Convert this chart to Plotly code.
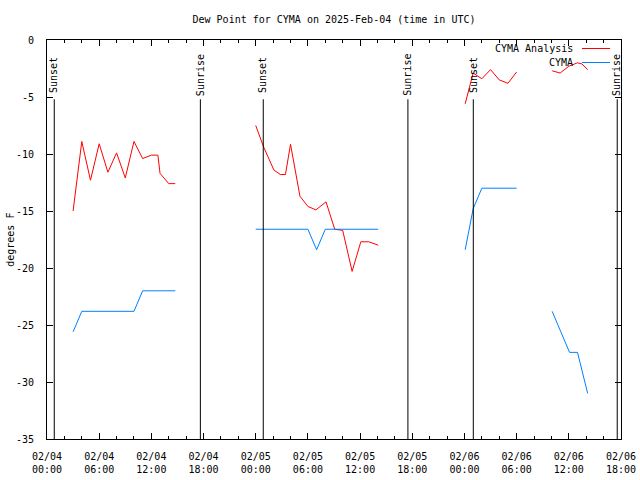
import plotly.graph_objects as go

title_text = "Dew Point for CYMA on 2025-Feb-04 (time in UTC)"

analysis_times = [
    "2025-02-04 03:00", "2025-02-04 04:00", "2025-02-04 05:00", "2025-02-04 06:00",
    "2025-02-04 07:00", "2025-02-04 08:00", "2025-02-04 09:00", "2025-02-04 10:00",
    "2025-02-04 11:00", "2025-02-04 12:00", "2025-02-04 12:45", "2025-02-04 13:00",
    "2025-02-04 14:00", "2025-02-04 14:45", None,
    "2025-02-05 00:00", "2025-02-05 00:55", "2025-02-05 02:05", "2025-02-05 02:50",
    "2025-02-05 03:25", "2025-02-05 04:00", "2025-02-05 05:05", "2025-02-05 06:00",
    "2025-02-05 06:55", "2025-02-05 08:05", "2025-02-05 09:05", "2025-02-05 10:00",
    "2025-02-05 11:05", "2025-02-05 12:05", "2025-02-05 13:00", "2025-02-05 14:05", None,
    "2025-02-06 00:05", "2025-02-06 01:00", "2025-02-06 02:00", "2025-02-06 03:00",
    "2025-02-06 04:00", "2025-02-06 05:00", "2025-02-06 06:00", None,
    "2025-02-06 10:05", "2025-02-06 11:00", "2025-02-06 12:00", "2025-02-06 13:00",
    "2025-02-06 13:30", "2025-02-06 14:10",
]
analysis_values = [
    -15.0, -8.9, -12.3, -9.1,
    -11.6, -9.9, -12.1, -8.9,
    -10.4, -10.1, -10.1, -11.7,
    -12.6, -12.6, None,
    -7.5, -9.4, -11.4, -11.8,
    -11.8, -9.15, -13.7, -14.6,
    -14.9, -14.2, -16.6, -16.7,
    -20.3, -17.7, -17.7, -18.0, None,
    -5.6, -2.9, -3.4, -2.6,
    -3.5, -3.8, -2.8, None,
    -2.7, -2.9, -2.3, -2.0,
    -2.1, -2.6,
]

obs_times = [
    "2025-02-04 03:00", "2025-02-04 04:00", "2025-02-04 10:00", "2025-02-04 11:00",
    "2025-02-04 14:45", None,
    "2025-02-05 00:00", "2025-02-05 06:00", "2025-02-05 07:00", "2025-02-05 08:00",
    "2025-02-05 14:05", None,
    "2025-02-06 00:05", "2025-02-06 01:00", "2025-02-06 02:00", "2025-02-06 06:00", None,
    "2025-02-06 10:05", "2025-02-06 12:05", "2025-02-06 13:00", "2025-02-06 14:10",
]
obs_values = [
    -25.6, -23.8, -23.8, -22.0,
    -22.0, None,
    -16.6, -16.6, -18.4, -16.6,
    -16.6, None,
    -18.4, -14.8, -13.0, -13.0, None,
    -23.8, -27.4, -27.4, -31.0,
]

event_times = [
    "2025-02-04 00:50", "2025-02-04 17:38", "2025-02-05 00:52",
    "2025-02-05 17:30", "2025-02-06 01:01", "2025-02-06 17:34",
]
event_labels = ["Sunset", "Sunrise", "Sunset", "Sunrise", "Sunset", "Sunrise"]

x_tick_times = [
    "2025-02-04 00:00", "2025-02-04 06:00", "2025-02-04 12:00", "2025-02-04 18:00",
    "2025-02-05 00:00", "2025-02-05 06:00", "2025-02-05 12:00", "2025-02-05 18:00",
    "2025-02-06 00:00", "2025-02-06 06:00", "2025-02-06 12:00", "2025-02-06 18:00",
]
x_tick_labels = [
    "02/04<br>00:00", "02/04<br>06:00", "02/04<br>12:00", "02/04<br>18:00",
    "02/05<br>00:00", "02/05<br>06:00", "02/05<br>12:00", "02/05<br>18:00",
    "02/06<br>00:00", "02/06<br>06:00", "02/06<br>12:00", "02/06<br>18:00",
]
y_tick_values = [0, -5, -10, -15, -20, -25, -30, -35]
y_tick_labels = ["0", "-5", "-10", "-15", "-20", "-25", "-30", "-35"]

series_names = ["CYMA Analysis", "CYMA"]
series_colors = ["#ff0000", "#0080ff"]

FONT = "DejaVu Sans Mono"

fig = go.Figure()
fig.add_trace(go.Scatter(x=analysis_times, y=analysis_values, mode="lines",
                         name=series_names[0], line=dict(color=series_colors[0], width=1),
                         connectgaps=False, showlegend=False))
fig.add_trace(go.Scatter(x=obs_times, y=obs_values, mode="lines",
                         name=series_names[1], line=dict(color=series_colors[1], width=1),
                         connectgaps=False, showlegend=False))

shapes = []
annotations = []
for t, lab in zip(event_times, event_labels):
    shapes.append(dict(type="line", xref="x", yref="y", x0=t, x1=t, y0=-5.2, y1=-35,
                       line=dict(color="black", width=1)))
    annotations.append(dict(x=t, y=-3.05, xref="x", yref="y", text=lab, textangle=-90,
                            showarrow=False, xanchor="center", yanchor="middle",
                            font=dict(family=FONT, size=10, color="black")))

# manual key (text right-justified, sample line to the right, gnuplot style)
key_rows_y = [0.9787, 0.9436]
for name, color, ky in zip(series_names, series_colors, key_rows_y):
    annotations.append(dict(x=0.919, y=ky, xref="paper", yref="paper", text=name,
                            showarrow=False, xanchor="right", yanchor="middle",
                            font=dict(family=FONT, size=10, color="black")))
    shapes.append(dict(type="line", xref="paper", yref="paper", x0=0.932, x1=0.981,
                       y0=ky, y1=ky, line=dict(color=color, width=1)))

annotations.append(dict(x=-0.064, y=0.5, xref="paper", yref="paper", text="degrees F",
                        textangle=-90, showarrow=False, xanchor="center", yanchor="middle",
                        font=dict(family=FONT, size=10, color="black")))

fig.update_layout(
    width=640, height=480,
    margin=dict(l=47, r=19, t=40, b=41, autoexpand=False),
    paper_bgcolor="white", plot_bgcolor="white",
    font=dict(family=FONT, size=10, color="black"),
    title=dict(text=title_text, x=0.5, xref="paper", y=1 - 19 / 480,
               yanchor="middle", xanchor="center",
               font=dict(family=FONT, size=10, color="black")),
    shapes=shapes, annotations=annotations,
    showlegend=False,
)
fig.update_xaxes(
    range=["2025-02-04 00:00", "2025-02-06 18:00"],
    tickmode="array", tickvals=x_tick_times, ticktext=x_tick_labels,
    ticks="inside", ticklen=6, tickcolor="black", tickwidth=1,
    showline=True, linecolor="black", linewidth=1, mirror="ticks",
    showgrid=False, zeroline=False, ticklabelstandoff=8, automargin=False,
    minor=dict(dtick=7200000, ticks="inside", ticklen=3, tickcolor="black", showgrid=False),
)
fig.update_yaxes(
    range=[-35, 0],
    tickmode="array", tickvals=y_tick_values, ticktext=y_tick_labels,
    ticks="inside", ticklen=6, tickcolor="black", tickwidth=1,
    showline=True, linecolor="black", linewidth=1, mirror="ticks",
    showgrid=False, zeroline=False, ticklabelstandoff=10, automargin=False,
)

fig.write_html("out.html", config={"displayModeBar": False},
               post_script="document.body.style.margin='0';document.body.style.overflow='hidden';")
